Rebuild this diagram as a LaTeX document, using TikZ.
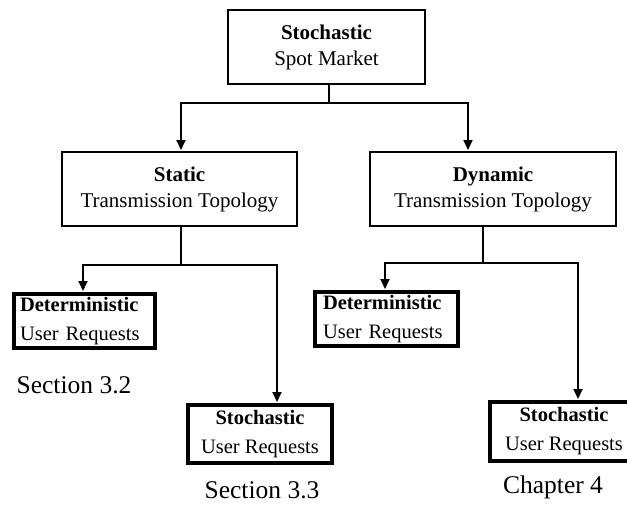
\documentclass[tikz,border=0pt]{standalone}
\usepackage{fontspec}
\setmainfont{Liberation Serif}
\usetikzlibrary{arrows.meta}
\begin{document}
\begin{tikzpicture}[x=1pt,y=-1pt,
  bigbox/.style={draw, line width=2pt, font=\fontsize{21}{26}\selectfont, align=center, inner sep=0pt},
  leafbox/.style={draw, line width=4pt, font=\fontsize{20.5}{29}\selectfont, inner sep=0pt},
  wire/.style={line width=2pt},
  arr/.style={wire, -{Triangle[length=10pt,width=9pt]}, shorten >=1pt},
  label/.style={font=\fontsize{25.5}{30}\selectfont, inner sep=0pt}]
\useasboundingbox (0,0) rectangle (627,506);

% upper levels
\node[bigbox, minimum width=197pt, minimum height=74pt] (market) at (326.5,47)
  {\textbf{Stochastic}\\Spot Market};
\node[bigbox, minimum width=235pt, minimum height=74pt] (static) at (179.5,189)
  {\textbf{Static}\\Transmission Topology};
\node[bigbox, minimum width=246pt, minimum height=74pt] (dynamic) at (493,189)
  {\textbf{Dynamic}\\Transmission Topology};

% leaves
\node[leafbox, minimum height=54pt, inner xsep=6pt, text width=129pt, align=left]
  (detS) at (84.5,321) {\textbf{Deterministic}\\User Requests};
\node[leafbox, minimum width=144pt, minimum height=58pt, align=center]
  (stoS) at (260,434) {\textbf{Stochastic}\\User Requests};
\node[leafbox, minimum height=54pt, inner xsep=8pt, text width=127pt, align=left]
  (detD) at (386.5,319) {\textbf{Deterministic}\\User Requests};
\node[leafbox, minimum width=148pt, minimum height=59pt, align=center]
  (stoD) at (564,431.5) {\textbf{Stochastic}\\User Requests};

% captions
\node[label] (cap32) at (74,385) {Section 3.2};
\node[label] (cap33) at (262,490) {Section 3.3};
\node[label] (cap4) at (553,487) {Chapter 4};

% connectors
\coordinate (mfork) at ([xshift=2.5pt]market.south);
\draw[wire] (mfork) -- ++(0,18) coordinate (mbar);
\draw[arr] (mbar) -| ([xshift=1.5pt]static.north);
\draw[arr] (mbar) -| ([xshift=-25pt]dynamic.north);

\coordinate (sfork) at ([xshift=1.5pt]static.south);
\draw[wire] (sfork) -- ++(0,38) coordinate (sbar);
\draw[arr] (sbar) -| ([xshift=-1.5pt]detS.north);
\draw[arr] (sbar) -| ([xshift=17pt]stoS.north);

\coordinate (dfork) at ([xshift=-10pt]dynamic.south);
\draw[wire] (dfork) -- ++(0,36) coordinate (dbar);
\draw[arr] (dbar) -| ([xshift=-1.5pt]detD.north);
\draw[arr] (dbar) -| ([xshift=14pt]stoD.north);
\end{tikzpicture}
\end{document}
